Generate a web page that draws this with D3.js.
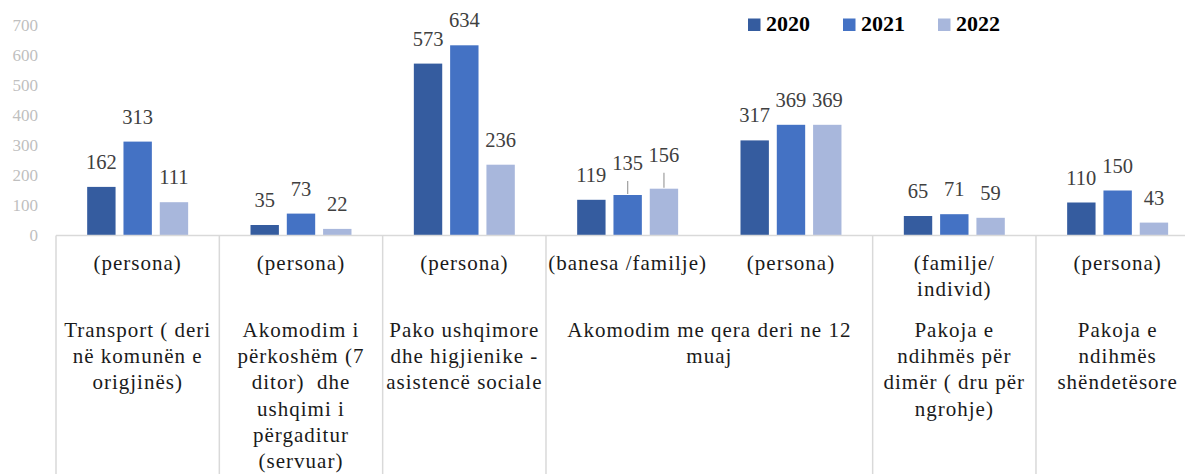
<!DOCTYPE html>
<html>
<head>
<meta charset="utf-8">
<script src="https://cdn.jsdelivr.net/npm/d3@7"></script>
<style>
  body { margin: 0; background: #fff; }
  svg text { white-space: pre; }
</style>
</head>
<body>
<div id="chart"></div>
<script>
// data
var series = ["2020", "2021", "2022"];
var units = ["(persona)", "(persona)", "(persona)", "(banesa /familje)", "(persona)", "(familje/\nindivid)", "(persona)"];
var groupNames = [
    "Transport ( deri\nnë komunën e\norigjinës)",
    "Akomodim i\npërkoshëm (7\nditor)  dhe\nushqimi i\npërgaditur\n(servuar)",
    "Pako ushqimore\ndhe higjienike -\nasistencë sociale",
    "Akomodim me qera deri ne 12\nmuaj",
    "Pakoja e\nndihmës për\ndimër ( dru për\nngrohje)",
    "Pakoja e\nndihmës\nshëndetësore"
];
var groupSpan = [1, 1, 1, 2, 1, 1];
var v2020 = [162, 35, 573, 119, 317, 65, 110];
var v2021 = [313, 73, 634, 135, 369, 71, 150];
var v2022 = [111, 22, 236, 156, 369, 59, 43];
var yTicks = [0, 100, 200, 300, 400, 500, 600, 700];
var colors = ["#355C9F", "#4472C4", "#A8B7DC"];

var values = [v2020, v2021, v2022];

// sizes
var width = 1185, height = 474;
var plotLeft = 56, catStep = 163.33;
var font = "'Liberation Serif', serif";

var svg = d3.select("#chart").append("svg")
    .attr("width", width)
    .attr("height", height);

// scales (chart runs a little past the right edge, as in the original)
var x = d3.scaleBand()
    .domain(d3.range(units.length))
    .range([plotLeft, plotLeft + catStep * units.length]);

var xs = d3.scaleBand()
    .domain(series)
    .range([0, x.bandwidth()])
    .paddingInner(0.218)
    .paddingOuter(0.859);

var y = d3.scaleLinear().domain([0, 700]).range([235.5, 25.5]);

// y tick labels only, no axis line
var yAxis = svg.append("g")
    .attr("transform", "translate(40,0)")
    .call(d3.axisLeft(y).tickValues(yTicks).tickSize(0).tickPadding(2));
yAxis.select(".domain").remove();
yAxis.selectAll("text")
    .attr("fill", "#bfbfbf")
    .style("font-family", font)
    .style("font-size", "17px");

// bars
var cats = svg.append("g").selectAll("g")
    .data(d3.range(units.length))
    .enter().append("g")
    .attr("transform", function (i) { return "translate(" + x(i) + ",0)"; });

function rows(i) {
    return series.map(function (s, k) { return { s: s, k: k, v: values[k][i], i: i }; });
}

cats.selectAll("rect")
    .data(rows)
    .enter().append("rect")
    .attr("x", function (d) { return xs(d.s); })
    .attr("y", function (d) { return y(d.v); })
    .attr("width", xs.bandwidth())
    .attr("height", function (d) { return y(0) - y(d.v); })
    .attr("fill", function (d) { return colors[d.k]; });

// labels pushed up by excel to avoid overlap (category 4)
var nudge = { "3-1": 7, "3-2": 9 };

cats.selectAll("text.val")
    .data(rows)
    .enter().append("text")
    .attr("class", "val")
    .attr("x", function (d) { return xs(d.s) + xs.bandwidth() / 2; })
    .attr("y", function (d) { return y(d.v) - 18 - (nudge[d.i + "-" + d.k] || 0); })
    .attr("text-anchor", "middle")
    .attr("fill", "#404040")
    .style("font-family", font)
    .style("font-size", "20.5px")
    .text(function (d) { return d.v; });

cats.selectAll("line.leader")
    .data(function (i) {
        return rows(i).filter(function (d) { return nudge[d.i + "-" + d.k]; });
    })
    .enter().append("line")
    .attr("x1", function (d) { return xs(d.s) + xs.bandwidth() / 2; })
    .attr("x2", function (d) { return xs(d.s) + xs.bandwidth() / 2; })
    .attr("y1", function (d) { return y(d.v) - 7 - nudge[d.i + "-" + d.k]; })
    .attr("y2", function (d) { return y(d.v) - 1; })
    .attr("stroke", "#a6a6a6")
    .attr("stroke-width", 1.3);

// category axis line
svg.append("line")
    .attr("x1", plotLeft).attr("x2", width)
    .attr("y1", y(0)).attr("y2", y(0))
    .attr("stroke", "#d9d9d9")
    .attr("stroke-width", 1.5);

// group separators
var bounds = [0];
groupSpan.forEach(function (n, i) { bounds.push(bounds[i] + n); });
svg.append("g").selectAll("line")
    .data(bounds.slice(0, -1))
    .enter().append("line")
    .attr("x1", function (b) { return x(b); })
    .attr("x2", function (b) { return x(b); })
    .attr("y1", y(0)).attr("y2", height)
    .attr("stroke", "#d9d9d9")
    .attr("stroke-width", 1.5);

function multiline(sel, str, lineH) {
    str.split("\n").forEach(function (t, j) {
        sel.append("tspan")
            .attr("x", sel.attr("x"))
            .attr("dy", j === 0 ? 0 : lineH)
            .text(t);
    });
}

function catText(cx, cy, str) {
    var t = svg.append("text")
        .attr("x", cx)
        .attr("y", cy)
        .attr("text-anchor", "middle")
        .attr("fill", "#1a1a1a")
        .style("font-family", font)
        .style("font-size", "21px")
        .style("letter-spacing", "1px");
    multiline(t, str, 26.2);
}

// level 1: units
units.forEach(function (u, i) {
    catText(x(i) + x.bandwidth() / 2, 270, u);
});

// level 2: groups
groupNames.forEach(function (g, i) {
    var cx = (x(bounds[i]) + x(bounds[i + 1] - 1) + x.bandwidth()) / 2;
    catText(cx, 337, g);
});

// legend
var legX = d3.scaleOrdinal().domain(series).range([748, 843, 938]);
var leg = svg.append("g").selectAll("g")
    .data(series)
    .enter().append("g")
    .attr("transform", function (s) { return "translate(" + legX(s) + ",0)"; });
leg.append("rect")
    .attr("y", 18.5).attr("width", 12.5).attr("height", 12.5)
    .attr("fill", function (s, k) { return colors[k]; });
leg.append("text")
    .attr("x", 18).attr("y", 31)
    .style("font-family", font)
    .style("font-size", "22px")
    .style("font-weight", "bold")
    .attr("fill", "#000")
    .text(function (s) { return s; });
</script>
</body>
</html>
